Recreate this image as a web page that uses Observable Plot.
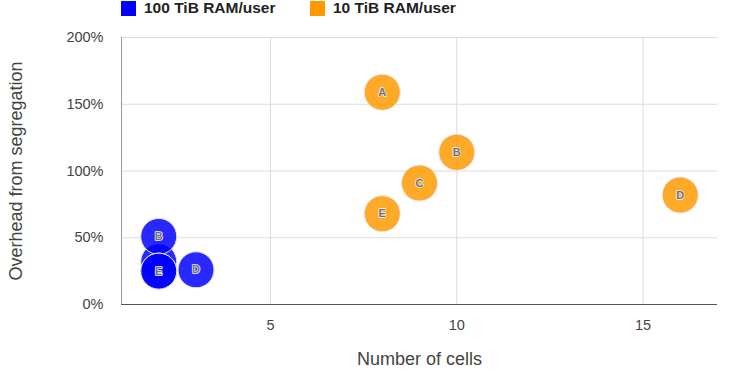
<!DOCTYPE html>
<html>
<head>
<meta charset="utf-8">
<script src="https://cdn.jsdelivr.net/npm/d3@7"></script>
<script src="https://cdn.jsdelivr.net/npm/@observablehq/plot@0.6"></script>
<style>
  html, body { margin: 0; padding: 0; background: #fff; }
  body { width: 734px; height: 377px; overflow: hidden; font-family: "Liberation Sans", Arial, sans-serif; }
  #legend { height: 18px; position: relative; font-weight: bold; font-size: 15.5px; color: #222; }
  .item { position: absolute; top: 0; display: flex; align-items: center; height: 16px; }
  .sw { width: 15px; height: 15px; margin-right: 8px; }
</style>
</head>
<body>
<div id="legend"></div>
<div id="chart"></div>
<script>
// Data
const seriesNames = ["100 TiB RAM/user", "10 TiB RAM/user"];
const seriesColors = ["#0000ff", "#ff9900"];

const blueLabels = ["A", "B", "C", "D", "E"];
const blueCells = [2, 2, 2, 3, 2];
const blueOverhead = [32, 51, 25, 26, 25];

const orangeLabels = ["A", "B", "C", "D", "E"];
const orangeCells = [8, 10, 9, 16, 8];
const orangeOverhead = [159, 114, 91, 82, 68];

const xTicks = [5, 10, 15];
const yTicks = [0, 50, 100, 150, 200];

const rows = [
  ...blueLabels.map((l, i) => ({label: l, series: seriesNames[0], x: blueCells[i], y: blueOverhead[i]})),
  ...orangeLabels.map((l, i) => ({label: l, series: seriesNames[1], x: orangeCells[i], y: orangeOverhead[i]}))
];

// Legend
const legend = document.getElementById("legend");
const legendX = [121, 310];
seriesNames.forEach((s, i) => {
  const it = document.createElement("div");
  it.className = "item";
  it.style.left = legendX[i] + "px";
  it.innerHTML = `<div class="sw" style="background:${seriesColors[i]}"></div><span>${s}</span>`;
  legend.appendChild(it);
});

const bubbleMarks = rows.flatMap(d => [
  Plot.dot([d], {x: "x", y: "y", r: 18, fill: "series", fillOpacity: 0.84, stroke: "#e8e8e8", strokeWidth: 1}),
  Plot.text([d], {x: "x", y: "y", text: "label", fill: "#707070", stroke: "#f4f4f4", strokeWidth: 1.5, fontSize: 11, fontWeight: "bold"})
]);

const chart = Plot.plot({
  width: 734,
  height: 359,
  marginTop: 19,
  marginBottom: 73,
  marginLeft: 121,
  marginRight: 17,
  style: {fontFamily: "'Liberation Sans', Arial, sans-serif", fontSize: "14.5px", color: "#444", background: "#fff"},
  x: {domain: [1, 17]},
  y: {domain: [0, 200]},
  color: {domain: seriesNames, range: seriesColors},
  marks: [
    Plot.gridX(xTicks, {stroke: "#dcdcdc", strokeOpacity: 1}),
    Plot.gridY(yTicks, {stroke: "#dcdcdc", strokeOpacity: 1}),
    Plot.ruleX([1], {stroke: "#999"}),
    Plot.ruleY([0], {stroke: "#555"}),
    Plot.axisX(xTicks, {tickSize: 0, tickPadding: 15, label: "Number of cells", labelAnchor: "center", labelArrow: "none", labelOffset: 60, fontSize: 14.5}),
    Plot.axisY(yTicks, {tickSize: 0, tickPadding: 18, tickFormat: d => d + "%", label: "Overhead from segregation", labelAnchor: "center", labelArrow: "none", labelOffset: 112, fontSize: 14.5}),
    ...bubbleMarks
  ]
});
// enlarge axis titles
chart.querySelectorAll("g[aria-label='x-axis label'] text, g[aria-label='y-axis label'] text").forEach(t => t.style.fontSize = "18px");
document.getElementById("chart").appendChild(chart);
</script>
</body>
</html>
